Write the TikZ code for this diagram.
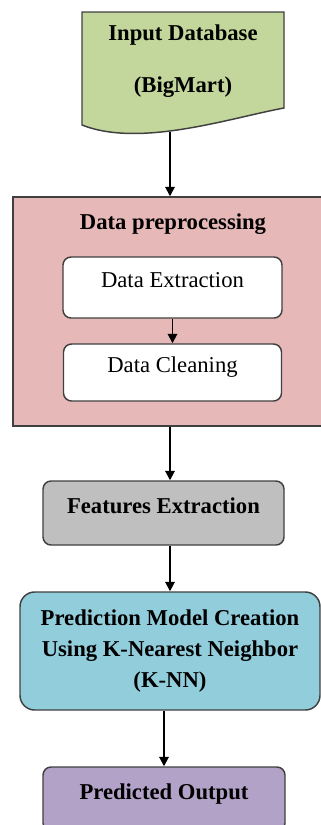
\documentclass[tikz,border=0pt]{standalone}
\usepackage{fontspec}
\setmainfont{Liberation Serif}
\usetikzlibrary{calc}
\usetikzlibrary{arrows.meta}
\definecolor{mygreen}{RGB}{195,214,155}
\definecolor{mypink}{RGB}{230,185,184}
\definecolor{mygray}{RGB}{191,191,191}
\definecolor{myblue}{RGB}{146,205,220}
\definecolor{mypurple}{RGB}{179,162,199}
\definecolor{myline}{RGB}{64,64,64}

\begin{document}
\begin{tikzpicture}[%
  >={Triangle[length=7pt,width=7pt]},
  x=0.75pt,
  y=-0.75pt,
  font=\fontsize{17}{20}\selectfont,
  box/.style={draw=myline, line width=1.1pt, rounded corners=6pt, inner sep=2pt},
  linebox/.style={box, text height=12pt, text depth=12pt, inner sep=0pt},
  flow/.style={->, line width=1.4pt},
]

  \useasboundingbox (0,0) rectangle (321,825);
  \clip (0,0) rectangle (321,825);

  % input document
  \fill[mygreen] (82,12) -- (284,12) -- (284,108)
    .. controls (230,118) and (140,148) .. (82,125) -- cycle;
  \draw[myline, line width=1.1pt] (82,12) -- (284,12) -- (284,108)
    .. controls (230,118) and (140,148) .. (82,125) -- cycle;
  \node[align=center, font=\fontsize{17}{39}\selectfont\bfseries] (db) at (183,61)
    {Input Database\\(BigMart)};
  \coordinate (dbout) at (170,132);

  % preprocessing
  \node[box, rounded corners=0pt, fill=mypink,
    minimum width=235.5pt, minimum height=171.75pt] (prep) at (170,311.5) {};
  \node[anchor=base, font=\fontsize{17}{20}\selectfont\bfseries] (preptitle) at (173,229.5)
    {Data preprocessing};
  \node[linebox, fill=white, minimum width=164.25pt, minimum height=45.75pt] (ext) at (172.5,287.5)
    {Data Extraction};
  \node[linebox, fill=white, minimum width=163.5pt, minimum height=42.75pt] (cln) at (172.5,372.5)
    {Data Cleaning};

  \node[linebox, fill=mygray, font=\fontsize{17}{20}\selectfont\bfseries,
    minimum width=180.75pt, minimum height=48pt] (feat) at (163.5,513) {Features Extraction};

  \node[box, fill=myblue, rounded corners=11pt, align=center,
    font=\fontsize{17}{23.3}\selectfont\bfseries,
    minimum width=225pt, minimum height=88.5pt] (pred) at (170,651)
    {Prediction Model Creation\\Using K-Nearest Neighbor\\(K-NN)};

  \node[linebox, fill=mypurple, font=\fontsize{17}{20}\selectfont\bfseries,
    minimum width=181.5pt, minimum height=48pt] (out) at (164,799) {Predicted Output};

  \draw[flow] (dbout) -- (dbout |- prep.north);
  \draw[flow] (ext.south) -- (cln.north);
  \draw[flow] (prep.south) -- (prep.south |- feat.north);
  \draw[flow] (pred.north |- feat.south) -- (pred.north);
  \draw[flow] (out.north |- pred.south) -- (out.north);

\end{tikzpicture}
\end{document}
